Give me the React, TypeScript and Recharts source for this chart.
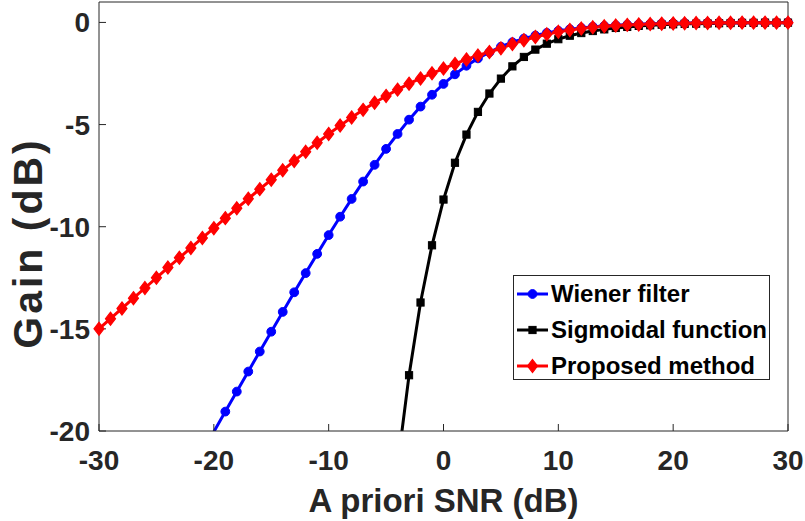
import React from 'react';
import { LineChart, Line, XAxis, YAxis, Label } from 'recharts';

const SNR = [
  -30, -29, -28, -27, -26, -25, -24, -23, -22, -21,
  -20, -19, -18, -17, -16, -15, -14, -13, -12, -11,
  -10, -9, -8, -7, -6, -5, -4, -3, -2, -1,
  0, 1, 2, 3, 4, 5, 6, 7, 8, 9,
  10, 11, 12, 13, 14, 15, 16, 17, 18, 19,
  20, 21, 22, 23, 24, 25, 26, 27, 28, 29, 30,
];

const WIENER = [
  -30.0, -29.01, -28.01, -27.01, -26.01, -25.01, -24.02, -23.02, -22.03, -21.03,
  -20.04, -19.05, -18.07, -17.09, -16.11, -15.14, -14.17, -13.21, -12.27, -11.33,
  -10.41, -9.51, -8.64, -7.79, -6.97, -6.19, -5.46, -4.76, -4.12, -3.54,
  -3.01, -2.54, -2.12, -1.76, -1.46, -1.19, -0.97, -0.79, -0.64, -0.51,
  -0.41, -0.33, -0.27, -0.21, -0.17, -0.14, -0.11, -0.09, -0.07, -0.05,
  -0.04, -0.03, -0.03, -0.02, -0.02, -0.01, -0.01, -0.01, -0.01, -0.01, 0.0,
];

const SIGMOID = [
  null, null, null, null, null, null, null, null, null, null,
  null, null, null, null, null, null, null, null, null, null,
  null, null, null, null, null, null, -21.7, -17.27, -13.71, -10.91,
  -8.67, -6.87, -5.49, -4.38, -3.48, -2.75, -2.15, -1.69, -1.33, -1.04,
  -0.82, -0.65, -0.52, -0.42, -0.34, -0.27, -0.22, -0.17, -0.14, -0.11,
  -0.09, -0.07, -0.06, -0.05, -0.04, -0.03, -0.02, -0.02, -0.01, -0.01, -0.01,
];

const PROPOSED = [
  -15.0, -14.5, -14.0, -13.5, -13.0, -12.5, -12.0, -11.52, -11.04, -10.55,
  -10.07, -9.58, -9.1, -8.63, -8.16, -7.7, -7.24, -6.78, -6.33, -5.89,
  -5.46, -5.05, -4.65, -4.28, -3.93, -3.6, -3.29, -3.0, -2.74, -2.49,
  -2.26, -2.03, -1.81, -1.62, -1.45, -1.27, -1.06, -0.87, -0.71, -0.58,
  -0.46, -0.37, -0.3, -0.24, -0.19, -0.15, -0.12, -0.1, -0.08, -0.06,
  -0.05, -0.04, -0.03, -0.03, -0.02, -0.02, -0.01, -0.01, -0.01, -0.01, -0.01,
];

const X_TICKS = [-30, -20, -10, 0, 10, 20, 30];
const Y_TICKS = [-20, -15, -10, -5, 0];
const X_DOMAIN = [-30, 30];
const Y_DOMAIN = [-20, 1];
const X_TITLE = 'A priori SNR (dB)';
const Y_TITLE = 'Gain (dB)';

const SERIES = [
  { key: 'wiener', name: 'Wiener filter', color: '#0000ff', marker: 'circle' },
  { key: 'sigmoid', name: 'Sigmoidal function', color: '#000000', marker: 'square' },
  { key: 'proposed', name: 'Proposed method', color: '#ff0000', marker: 'diamond' },
];

const W = 805;
const H = 521;
const FONT = '"Liberation Sans", Arial, Helvetica, sans-serif';
const AXIS_COLOR = '#262626';

function markerShape(kind: string, cx: number, cy: number, color: string, key?: any) {
  if (kind === 'circle') {
    return <circle key={key} cx={cx} cy={cy} r={4.4} fill={color} stroke={color} strokeWidth={1} />;
  }
  if (kind === 'square') {
    return <rect key={key} x={cx - 3.6} y={cy - 3.6} width={7.2} height={7.2} fill={color} stroke={color} strokeWidth={1} />;
  }
  return (
    <polygon
      key={key}
      points={`${cx},${cy - 6.5} ${cx + 5},${cy} ${cx},${cy + 6.5} ${cx - 5},${cy}`}
      fill={color}
      stroke={color}
      strokeWidth={1.2}
    />
  );
}

function makeDot(kind: string, color: string) {
  return (props: any) => {
    const { cx, cy, index } = props;
    if (cx == null || cy == null || Number.isNaN(cx) || Number.isNaN(cy) || props.value == null) {
      return <g key={`e-${index}`} />;
    }
    return markerShape(kind, cx, cy, color, `d-${index}`);
  };
}

const inRange = (v: number | null) => (v == null || v < Y_DOMAIN[0] || v > Y_DOMAIN[1] ? null : v);

const tickStyle = { fill: AXIS_COLOR, fontSize: 28, fontWeight: 'bold', fontFamily: FONT };

export default function App() {
  const rows = SNR.map((x, i) => ({
    x,
    wiener: WIENER[i],
    sigmoid: SIGMOID[i],
    proposed: PROPOSED[i],
    wienerM: inRange(WIENER[i]),
    sigmoidM: inRange(SIGMOID[i]),
    proposedM: inRange(PROPOSED[i]),
  }));

  return (
    <div style={{ position: 'absolute', left: 0, top: 0, width: W, height: H, background: '#fff' }}>
      <LineChart width={W} height={H} data={rows} margin={{ top: 1, right: 16, bottom: 0, left: 0 }}>
        <XAxis
          dataKey="x"
          type="number"
          domain={X_DOMAIN}
          ticks={X_TICKS}
          interval={0}
          allowDataOverflow
          height={90}
          tickSize={-7}
          tickMargin={26}
          stroke={AXIS_COLOR}
          tick={tickStyle}
        >
          <Label
            content={(p: any) => {
              const vb = p.viewBox || { x: 99, y: 431, width: 689, height: 90 };
              return (
                <text
                  x={vb.x + vb.width / 2}
                  y={512}
                  textAnchor="middle"
                  fill={AXIS_COLOR}
                  fontSize={33}
                  fontWeight="bold"
                  fontFamily={FONT}
                >
                  {X_TITLE}
                </text>
              );
            }}
          />
        </XAxis>
        <YAxis
          type="number"
          domain={Y_DOMAIN}
          ticks={Y_TICKS}
          interval={0}
          allowDataOverflow
          width={99}
          tickSize={-7}
          tickMargin={16}
          stroke={AXIS_COLOR}
          tick={tickStyle}
        >
          <Label
            content={() => (
              <text
                x={0}
                y={0}
                transform={`translate(42, 243) rotate(-90)`}
                textAnchor="middle"
                fill={AXIS_COLOR}
                fontSize={41}
                fontWeight="bold"
                fontFamily={FONT}
                letterSpacing={3}
              >
                {Y_TITLE}
              </text>
            )}
          />
        </YAxis>
        <XAxis
          xAxisId="top"
          orientation="top"
          type="number"
          domain={X_DOMAIN}
          ticks={X_TICKS}
          interval={0}
          allowDataOverflow
          height={1}
          tickSize={-7}
          tick={false}
          stroke={AXIS_COLOR}
        />
        <YAxis
          yAxisId="right"
          orientation="right"
          type="number"
          domain={Y_DOMAIN}
          ticks={Y_TICKS}
          interval={0}
          allowDataOverflow
          width={1}
          tickSize={-7}
          tick={false}
          stroke={AXIS_COLOR}
        />
        <XAxis xAxisId="m" type="number" dataKey="x" domain={X_DOMAIN} hide height={0} />
        <YAxis yAxisId="m" type="number" domain={Y_DOMAIN} hide width={0} />
        {SERIES.flatMap((s) => [
          <Line
            key={s.key}
            dataKey={s.key}
            type="linear"
            stroke={s.color}
            strokeWidth={3}
            dot={false}
            activeDot={false}
            isAnimationActive={false}
            connectNulls={false}
          />,
          <Line
            key={s.key + 'M'}
            dataKey={s.key + 'M'}
            xAxisId="m"
            yAxisId="m"
            type="linear"
            stroke="none"
            strokeWidth={0}
            dot={makeDot(s.marker, s.color)}
            activeDot={false}
            isAnimationActive={false}
            legendType="none"
          />,
        ])}
      </LineChart>
      <div
        style={{
          position: 'absolute',
          left: 513,
          top: 275,
          width: 257,
          height: 105,
          boxSizing: 'border-box',
          border: `1px solid ${AXIS_COLOR}`,
          background: '#fff',
          fontFamily: FONT,
          fontWeight: 'bold',
          fontSize: 24,
          color: '#000',
        }}
      >
        {SERIES.map((s, i) => (
          <div
            key={s.key}
            style={{
              position: 'absolute',
              left: 2,
              top: 5 + i * 36,
              height: 26,
              display: 'flex',
              alignItems: 'center',
              whiteSpace: 'nowrap',
            }}
          >
            <svg width={33} height={20} style={{ display: 'block' }}>
              <line x1={1} x2={32} y1={10} y2={10} stroke={s.color} strokeWidth={3} />
              {markerShape(s.marker, 16.5, 10, s.color)}
            </svg>
            <span style={{ marginLeft: 2, lineHeight: '26px' }}>{s.name}</span>
          </div>
        ))}
      </div>
    </div>
  );
}
